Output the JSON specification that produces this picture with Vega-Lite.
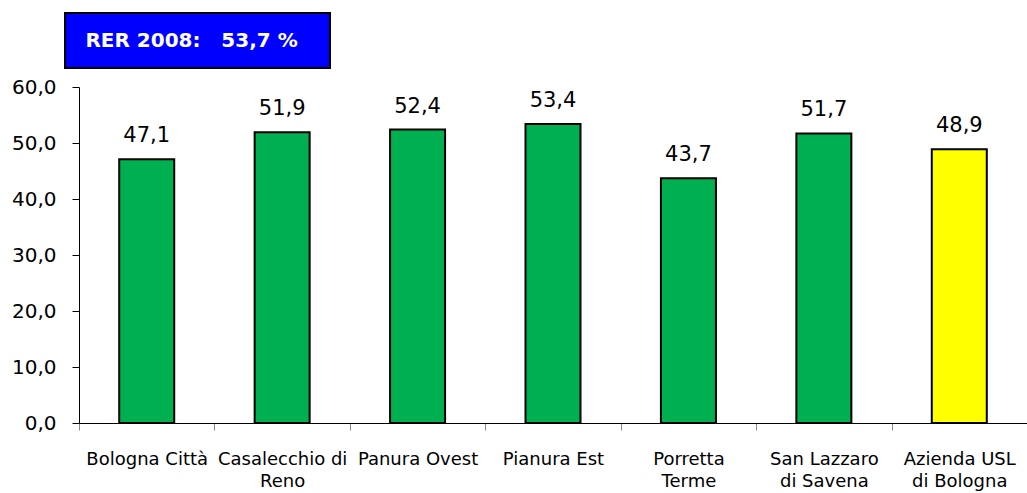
{
  "$schema": "https://vega.github.io/schema/vega-lite/v6.json",
  "width": 948,
  "height": 336,
  "autosize": {"type": "none"},
  "padding": {"left": 79, "top": 87, "right": 0, "bottom": 70},
  "background": "white",
  "config": {
    "view": {"stroke": null},
    "font": "DejaVu Sans",
    "locale": {"number": {"decimal": ",", "thousands": ".", "grouping": [3], "currency": ["", " €"]}}
  },
  "datasets": {
    "bars": [
      {"area": "Bologna Città", "value": 47.1, "type": "distretto"},
      {"area": "Casalecchio di Reno", "value": 51.9, "type": "distretto"},
      {"area": "Panura Ovest", "value": 52.4, "type": "distretto"},
      {"area": "Pianura Est", "value": 53.4, "type": "distretto"},
      {"area": "Porretta Terme", "value": 43.7, "type": "distretto"},
      {"area": "San Lazzaro di Savena", "value": 51.7, "type": "distretto"},
      {"area": "Azienda USL di Bologna", "value": 48.9, "type": "azienda"}
    ],
    "rer": [
      {"area": "Bologna Città", "y": 68.3, "text": "RER 2008:\u00a0\u00a0\u00a053,7 %"}
    ]
  },
  "layer": [
    {
      "data": {"name": "bars"},
      "mark": {"type": "bar", "width": 55, "stroke": "black", "strokeWidth": 2},
      "encoding": {
        "x": {
          "field": "area", "type": "nominal",
          "sort": ["Bologna Città", "Casalecchio di Reno", "Panura Ovest", "Pianura Est", "Porretta Terme", "San Lazzaro di Savena", "Azienda USL di Bologna"],
          "scale": {"paddingInner": 0, "paddingOuter": 0},
          "axis": {
            "title": null, "labelAngle": 0, "tickBand": "extent", "tickColor": "#888888", "tickSize": 7,
            "domainColor": "black", "labelFontSize": 18, "labelColor": "black", "labelPadding": 20,
            "labelLineHeight": 22, "labelOverlap": false, "labelBound": false,
            "labelExpr": "datum.label == 'Casalecchio di Reno' ? ['Casalecchio di', 'Reno'] : datum.label == 'Porretta Terme' ? ['Porretta', 'Terme'] : datum.label == 'San Lazzaro di Savena' ? ['San Lazzaro', 'di Savena'] : datum.label == 'Azienda USL di Bologna' ? ['Azienda USL', 'di Bologna'] : datum.label"
          }
        },
        "y": {
          "field": "value", "type": "quantitative",
          "scale": {"domain": [0, 60], "nice": false},
          "axis": {
            "title": null, "values": [0, 10, 20, 30, 40, 50, 60], "format": ".1f", "grid": false,
            "domainColor": "black", "tickColor": "black", "tickSize": 7, "labelFontSize": 20,
            "labelColor": "black", "labelPadding": 16
          }
        },
        "color": {
          "field": "type", "type": "nominal",
          "scale": {"domain": ["distretto", "azienda"], "range": ["#00B050", "#FFFF00"]},
          "legend": null
        }
      }
    },
    {
      "data": {"name": "bars"},
      "mark": {"type": "text", "dy": -17, "baseline": "alphabetic", "fontSize": 21, "color": "black"},
      "encoding": {
        "x": {"field": "area", "type": "nominal", "sort": ["Bologna Città", "Casalecchio di Reno", "Panura Ovest", "Pianura Est", "Porretta Terme", "San Lazzaro di Savena", "Azienda USL di Bologna"]},
        "y": {"field": "value", "type": "quantitative"},
        "text": {"field": "value", "type": "quantitative", "format": ".1f"}
      }
    },
    {
      "data": {"name": "rer"},
      "mark": {"type": "point", "shape": "M-1,-0.2075H1V0.2075H-1Z", "size": 70225, "filled": true, "fill": "#0000FF", "stroke": "black", "strokeWidth": 2, "opacity": 1},
      "encoding": {
        "x": {"field": "area", "type": "nominal", "bandPosition": 0.875, "sort": ["Bologna Città", "Casalecchio di Reno", "Panura Ovest", "Pianura Est", "Porretta Terme", "San Lazzaro di Savena", "Azienda USL di Bologna"]},
        "y": {"field": "y", "type": "quantitative"}
      }
    },
    {
      "data": {"name": "rer"},
      "mark": {"type": "text", "fontSize": 20, "fontWeight": "bold", "color": "white", "baseline": "middle"},
      "encoding": {
        "x": {"field": "area", "type": "nominal", "bandPosition": 0.831, "sort": ["Bologna Città", "Casalecchio di Reno", "Panura Ovest", "Pianura Est", "Porretta Terme", "San Lazzaro di Savena", "Azienda USL di Bologna"]},
        "y": {"field": "y", "type": "quantitative"},
        "text": {"field": "text", "type": "nominal"}
      }
    }
  ]
}
